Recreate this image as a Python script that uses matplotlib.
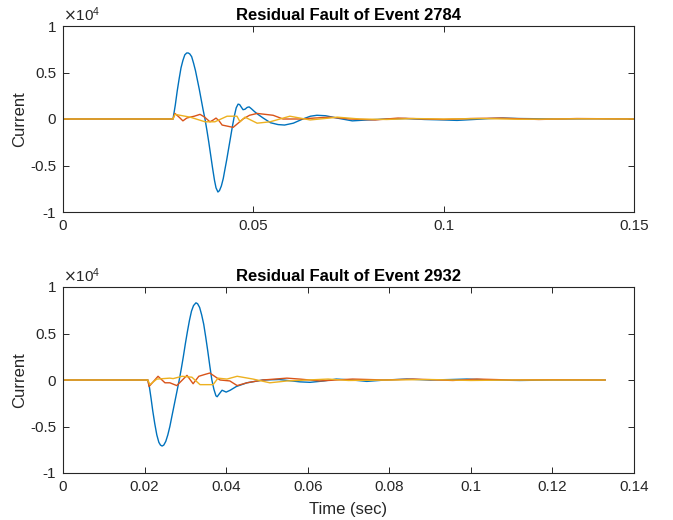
import matplotlib
matplotlib.use("Agg")
import matplotlib.pyplot as plt

plt.rcParams['font.family'] = ['Liberation Sans', 'DejaVu Sans']

# ---------------- data (values in units of 1e4) ----------------
title_top = "Residual Fault of Event 2784"
title_bot = "Residual Fault of Event 2932"

# Top event
t1_blue = [0.0, 0.0289, 0.0295, 0.0300, 0.0305, 0.0310, 0.0315, 0.0320, 0.0325, 0.0329,
           0.0333, 0.0338, 0.0343, 0.0348, 0.0353, 0.0358, 0.0363, 0.0368, 0.0373, 0.0378,
           0.0383, 0.0388, 0.0393, 0.0398, 0.0402, 0.0407, 0.0411, 0.0416, 0.0421, 0.0425,
           0.0430, 0.0435, 0.0440, 0.0445, 0.0450, 0.0455, 0.0460, 0.0464, 0.0468, 0.0473,
           0.0478, 0.0484, 0.0489, 0.0495, 0.0503, 0.0512, 0.0526, 0.0545, 0.0565, 0.0582,
           0.0605, 0.0630, 0.0650, 0.0667, 0.0690, 0.0720, 0.0760, 0.0800, 0.0850, 0.0900,
           0.0950, 0.1000, 0.1035, 0.1080, 0.1120, 0.1156, 0.1200, 0.1300, 0.1400, 0.1500]
v1_blue = [0.0, 0.0, 0.15, 0.30, 0.43, 0.55, 0.63, 0.69, 0.71, 0.71,
           0.70, 0.67, 0.60, 0.52, 0.42, 0.32, 0.21, 0.10, 0.0, -0.12,
           -0.25, -0.39, -0.53, -0.66, -0.74, -0.785, -0.77, -0.72, -0.64, -0.55,
           -0.44, -0.32, -0.20, -0.08, 0.03, 0.12, 0.16, 0.155, 0.13, 0.10,
           0.105, 0.125, 0.13, 0.11, 0.08, 0.05, 0.01, -0.04, -0.06, -0.065,
           -0.045, 0.0, 0.03, 0.04, 0.035, 0.01, -0.02, -0.01, 0.0, 0.005,
           -0.005, -0.01, -0.015, -0.005, 0.005, 0.01, 0.005, 0.0, 0.003, 0.0]

t1_orange = [0.0, 0.0289, 0.0294, 0.0305, 0.0315, 0.0325, 0.0334, 0.0345, 0.0360, 0.0372,
             0.0386, 0.0395, 0.0402, 0.0410, 0.0418, 0.0447, 0.0460, 0.0473, 0.0490, 0.0510,
             0.0552, 0.0578, 0.0623, 0.0660, 0.0701, 0.0754, 0.0820, 0.0880, 0.0950, 0.1000,
             0.1070, 0.1150, 0.1250, 0.1350, 0.1500]
v1_orange = [0.0, 0.0, 0.06, 0.02, -0.02, 0.01, 0.02, 0.03, 0.05, 0.02,
             -0.03, -0.01, 0.01, -0.02, -0.065, -0.09, -0.045, 0.0, 0.04, 0.06,
             0.04, 0.0, 0.0, 0.01, 0.02, 0.0, -0.01, 0.01, 0.0, -0.005,
             0.005, 0.01, -0.005, 0.005, 0.0]

t1_yellow = [0.0, 0.0289, 0.0294, 0.0334, 0.0373, 0.0399, 0.0431, 0.0457, 0.0465, 0.0478,
             0.0510, 0.0544, 0.0596, 0.0649, 0.0700, 0.0720, 0.0780, 0.0850, 0.0920, 0.1000,
             0.1100, 0.1200, 0.1350, 0.1500]
v1_yellow = [0.0, 0.0, 0.05, 0.02, -0.03, -0.03, 0.03, 0.03, -0.03, 0.02,
             -0.045, -0.03, 0.03, -0.01, 0.01, 0.02, 0.0, -0.005, 0.005, 0.0,
             0.005, -0.003, 0.002, 0.0]

# Bottom event
t2_blue = [0.0, 0.0208, 0.0212, 0.0216, 0.0220, 0.0225, 0.0230, 0.0235, 0.0239, 0.0243,
           0.0247, 0.0252, 0.0257, 0.0262, 0.0267, 0.0273, 0.0279, 0.0285, 0.0290, 0.0295,
           0.0300, 0.0305, 0.0310, 0.0315, 0.0320, 0.0326, 0.0330, 0.0335, 0.0340, 0.0345,
           0.0350, 0.0355, 0.0360, 0.0365, 0.0370, 0.0375, 0.0378, 0.0383, 0.0390, 0.0395,
           0.0400, 0.0410, 0.0425, 0.0451, 0.0490, 0.0530, 0.0581, 0.0606, 0.0640, 0.0670,
           0.0710, 0.0745, 0.0790, 0.0843, 0.0900, 0.0950, 0.0990, 0.1050, 0.1120, 0.1200, 0.1329]
v2_blue = [0.0, 0.0, -0.08, -0.20, -0.33, -0.47, -0.59, -0.67, -0.70, -0.71,
           -0.70, -0.66, -0.59, -0.50, -0.39, -0.26, -0.13, 0.0, 0.12, 0.25,
           0.39, 0.52, 0.64, 0.74, 0.80, 0.83, 0.82, 0.78, 0.70, 0.60,
           0.46, 0.31, 0.15, 0.0, -0.10, -0.17, -0.18, -0.15, -0.11, -0.12,
           -0.13, -0.11, -0.07, -0.03, 0.0, 0.005, -0.02, -0.025, -0.01, 0.01,
           0.0, -0.015, 0.0, 0.01, 0.0, 0.005, 0.01, 0.0, -0.005, 0.0, 0.0]

t2_orange = [0.0, 0.0208, 0.0211, 0.0233, 0.0250, 0.0262, 0.0279, 0.0304, 0.0319, 0.0333,
             0.0348, 0.0360, 0.0385, 0.0409, 0.0427, 0.0451, 0.0490, 0.0549, 0.0580, 0.0630,
             0.0710, 0.0790, 0.0858, 0.0956, 0.1015, 0.1100, 0.1200, 0.1329]
v2_orange = [0.0, 0.0, -0.07, 0.04, -0.03, -0.03, -0.06, 0.05, -0.04, 0.04,
             0.06, 0.075, 0.0, -0.01, -0.06, -0.03, 0.0, 0.02, 0.01, -0.01,
             0.01, 0.0, 0.01, -0.005, 0.01, 0.0, 0.003, 0.0]

t2_yellow = [0.0, 0.0208, 0.0213, 0.0230, 0.0262, 0.0270, 0.0292, 0.0316, 0.0336, 0.0368,
             0.0380, 0.0402, 0.0427, 0.0466, 0.0507, 0.0550, 0.0600, 0.0650, 0.0700, 0.0800,
             0.0900, 0.1000, 0.1100, 0.1329]
v2_yellow = [0.0, 0.0, -0.05, 0.01, 0.02, 0.015, 0.04, 0.03, -0.05, -0.05,
             0.02, 0.01, 0.04, 0.01, -0.03, -0.01, 0.0, 0.01, -0.005, 0.0,
             0.005, -0.005, 0.0, 0.0]

xticks_top = [0, 0.05, 0.1, 0.15]
xticklabels_top = ["0", "0.05", "0.1", "0.15"]
xticks_bot = [0, 0.02, 0.04, 0.06, 0.08, 0.1, 0.12, 0.14]
xticklabels_bot = ["0", "0.02", "0.04", "0.06", "0.08", "0.1", "0.12", "0.14"]
yticks = [-1, -0.5, 0, 0.5, 1]
yticklabels = ["-1", "-0.5", "0", "0.5", "1"]

colors = ["#0072BD", "#D95319", "#EDB120"]
txt = "#262626"

fig = plt.figure(figsize=(6.73, 5.2), dpi=100)
ax1 = fig.add_axes([63/673, 1 - 212/520, 571/673, 186/520])
ax2 = fig.add_axes([63/673, 1 - 473/520, 571/673, 186/520])

def style(ax, xt, xtl, xmax, title):
    ax.set_xlim(0, xmax)
    ax.set_ylim(-1, 1)
    ax.set_xticks(xt)
    ax.set_xticklabels(xtl)
    ax.set_yticks(yticks)
    ax.set_yticklabels(yticklabels)
    ax.tick_params(direction='in', top=True, right=True, length=4, width=0.7,
                   labelsize=11, colors=txt, pad=5)
    for s in ax.spines.values():
        s.set_color(txt)
        s.set_linewidth(0.8)
    ax.set_title(title, fontsize=12, fontweight='bold', color='black', pad=4)
    ax.set_ylabel("Current", fontsize=12, color=txt, labelpad=2)
    ax.text(0.0, 1.01, r"$\times\mathregular{10^{4}}$", transform=ax.transAxes,
            fontsize=11, color=txt, ha='left', va='bottom')

ax1.plot(t1_blue, v1_blue, color=colors[0], lw=1.0)
ax1.plot(t1_orange, v1_orange, color=colors[1], lw=1.0)
ax1.plot(t1_yellow, v1_yellow, color=colors[2], lw=1.0)
style(ax1, xticks_top, xticklabels_top, 0.15, title_top)

ax2.plot(t2_blue, v2_blue, color=colors[0], lw=1.0)
ax2.plot(t2_orange, v2_orange, color=colors[1], lw=1.0)
ax2.plot(t2_yellow, v2_yellow, color=colors[2], lw=1.0)
style(ax2, xticks_bot, xticklabels_bot, 0.14, title_bot)
ax2.set_xlabel("Time (sec)", fontsize=12, color=txt, labelpad=6)

fig.savefig("out.png", dpi=100)
